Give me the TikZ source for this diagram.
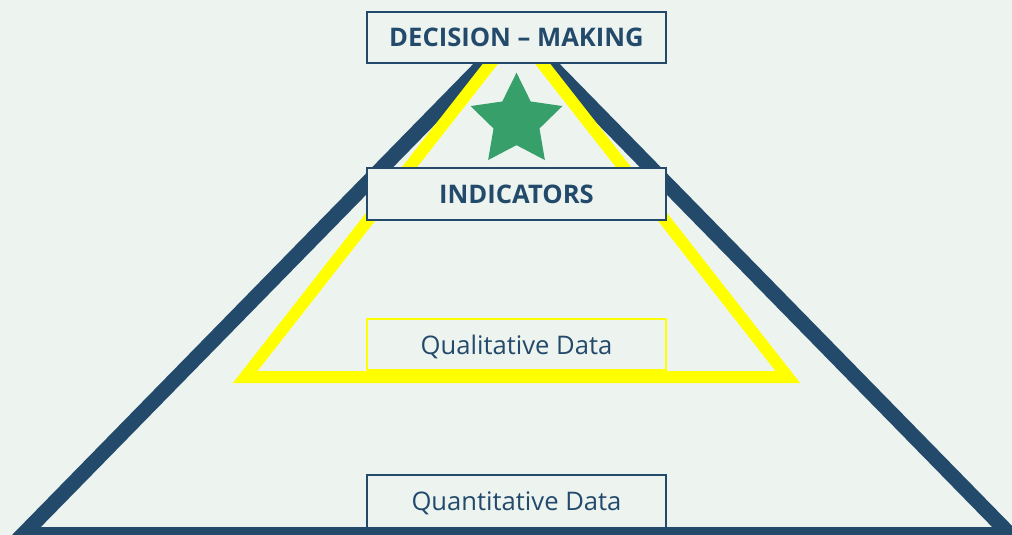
\documentclass[tikz,border=0pt]{standalone}
\usepackage{fontspec}
\setmainfont{Open Sans}
\usepackage{tikz}
\usetikzlibrary{shapes, positioning}
\definecolor{bgcol}{HTML}{EDF4F0}
\definecolor{navy}{HTML}{234A6B}
\definecolor{leaf}{HTML}{379F6A}
\definecolor{lemon}{HTML}{FFFF00}
\tikzstyle{block} = [draw=navy, line width=2pt, fill=bgcol, rectangle, minimum width=299pt, minimum height=51.5pt, inner sep=0pt, text=navy]
\tikzstyle{yblock} = [block, draw=lemon, line width=1.8pt]
\newcommand{\head}[1]{\fontsize{25.6}{30}\selectfont\bfseries #1}
\newcommand{\body}[1]{\fontsize{25.6}{30}\selectfont #1}

\begin{document}
\begin{tikzpicture}[x=1pt, y=-1pt, line join=miter]
    \useasboundingbox (0,0) rectangle (1012,535);
    \clip (0,0) rectangle (1012,535);
    \fill [bgcol] (0,0) rectangle (1012,535);
    % corners of the two pyramids
    \coordinate (apex) at (516.5,30.5);
    \coordinate (outerL) at (23,534.5);
    \coordinate (outerR) at (1010,534.5);
    \coordinate (innerL) at (245.2,377);
    \coordinate (innerR) at (787.8,377);
    \draw [navy, line width=15pt] (apex) -- (outerL) -- (outerR) -- cycle;
    \draw [lemon, line width=12pt] (apex) -- (innerL) -- (innerR) -- cycle;
    \node [star, star points=5, star point ratio=2, minimum size=96.6pt, inner sep=0pt, fill=leaf] (goal) at (516.5,121) {};
    \node [block] (decision) at (516.5,37.3) {\head{DECISION – MAKING}};
    \node [block, minimum height=52pt] (indicators) at (516.5,194) {\head{INDICATORS}};
    \node [yblock, text depth=0pt] (quali) at (516.5,344.5) {\body{Qualitative Data}};
    \node [block, text depth=0pt, minimum height=53pt] (quanti) at (516.5,501) {\body{Quantitative Data}};
\end{tikzpicture}
\end{document}
